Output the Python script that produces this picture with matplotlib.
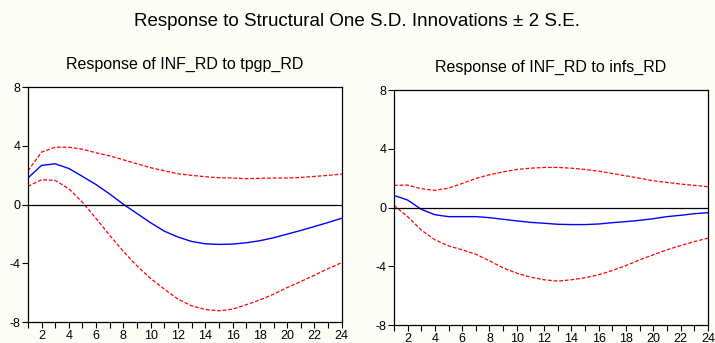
import matplotlib
matplotlib.use('Agg')
import matplotlib.pyplot as plt

plt.rcParams['font.family'] = ['Liberation Sans', 'DejaVu Sans']

periods = list(range(1, 25))

# resposta de INF_RD a tpgp_RD
tpgp_resp = [1.81, 2.67, 2.78, 2.46, 1.92, 1.36, 0.72, 0.02, -0.61, -1.24, -1.81, -2.21,
             -2.51, -2.67, -2.71, -2.69, -2.60, -2.46, -2.26, -2.01, -1.76, -1.49, -1.22, -0.93]
tpgp_sup = [2.30, 3.57, 3.91, 3.91, 3.77, 3.53, 3.32, 3.05, 2.78, 2.51, 2.30, 2.10,
            1.99, 1.90, 1.83, 1.81, 1.76, 1.79, 1.81, 1.81, 1.85, 1.92, 1.99, 2.08]
tpgp_inf = [1.24, 1.69, 1.65, 1.08, 0.16, -0.95, -2.10, -3.19, -4.18, -5.04, -5.76, -6.44,
            -6.89, -7.14, -7.23, -7.12, -6.82, -6.49, -6.10, -5.65, -5.24, -4.81, -4.36, -3.95]

# resposta de INF_RD a infs_RD
infs_resp = [0.84, 0.52, -0.11, -0.48, -0.61, -0.61, -0.61, -0.68, -0.79, -0.90, -1.00, -1.06,
             -1.13, -1.15, -1.15, -1.11, -1.02, -0.95, -0.86, -0.75, -0.61, -0.52, -0.41, -0.34]
infs_sup = [1.52, 1.54, 1.29, 1.18, 1.33, 1.65, 1.99, 2.24, 2.44, 2.60, 2.69, 2.74,
            2.74, 2.69, 2.60, 2.49, 2.33, 2.17, 2.01, 1.83, 1.72, 1.61, 1.52, 1.43]
infs_inf = [0.16, -0.61, -1.52, -2.19, -2.60, -2.87, -3.17, -3.62, -4.10, -4.46, -4.73, -4.91,
            -5.00, -4.91, -4.77, -4.57, -4.28, -3.94, -3.55, -3.21, -2.87, -2.58, -2.31, -2.08]

yticks = [8, 4, 0, -4, -8]
ytick_labels = ['8', '4', '0', '-4', '-8']

fig = plt.figure(figsize=(7.15, 3.43), dpi=100, facecolor='#fdfdf7')
fig.text(0.5, 0.937, 'Response to Structural One S.D. Innovations \u00b1 2 S.E.',
         ha='center', va='center', fontsize=13.5)


def painel(pos, titulo, titulo_y, resp, sup, inf):
    ax = fig.add_axes(pos)
    ax.plot(periods, resp, color='#0000ff', lw=1.0)
    ax.plot(periods, sup, color='#ff0000', lw=0.9, ls=(0, (3, 1.5)))
    ax.plot(periods, inf, color='#ff0000', lw=0.9, ls=(0, (3, 1.5)))
    ax.axhline(0, color='black', lw=0.9)
    ax.set_xlim(1, 24)
    ax.set_ylim(-8, 8)
    ax.set_xticks(periods)
    ax.set_xticklabels([str(p) if p % 2 == 0 else '' for p in periods])
    ax.set_yticks(yticks)
    ax.set_yticklabels(ytick_labels)
    ax.tick_params(direction='out', length=4, width=0.8, labelsize=9, pad=1.5)
    for s in ax.spines.values():
        s.set_linewidth(0.9)
    fig.text(pos[0] + pos[2] / 2, titulo_y, titulo, ha='center', va='center', fontsize=11.5)
    return ax


painel([0.039, 0.061, 0.439, 0.685], 'Response of INF_RD to tpgp_RD', 0.812,
       tpgp_resp, tpgp_sup, tpgp_inf)
painel([0.551, 0.052, 0.439, 0.685], 'Response of INF_RD to infs_RD', 0.802,
       infs_resp, infs_sup, infs_inf)

plt.savefig('out.png', dpi=100, facecolor=fig.get_facecolor())
